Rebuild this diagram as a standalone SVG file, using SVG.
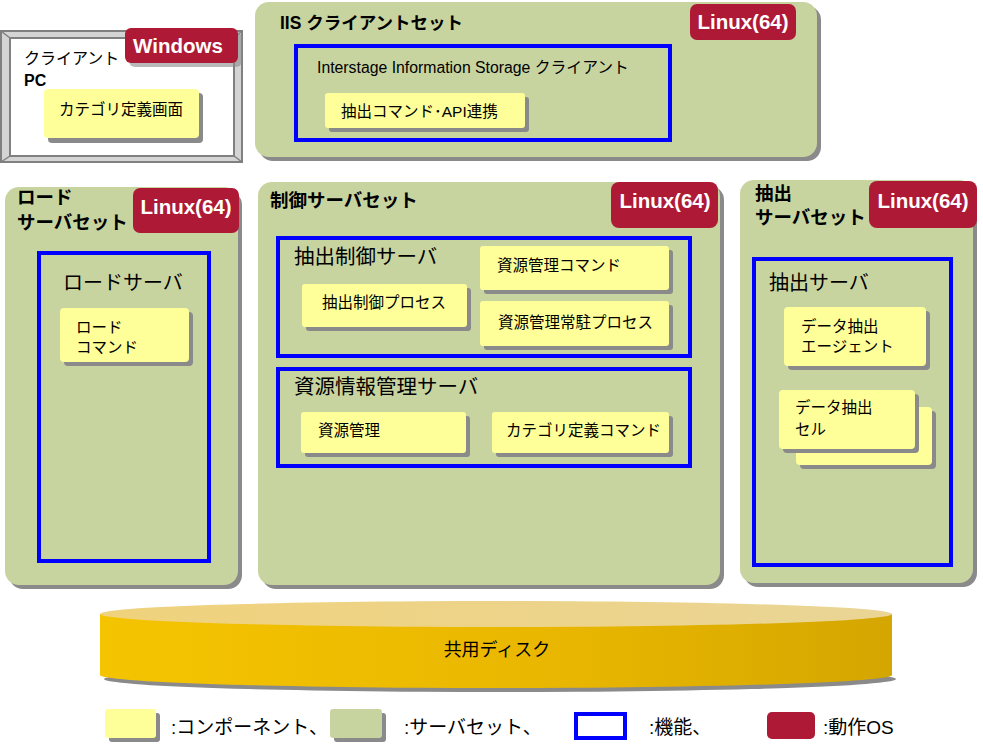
<svg xmlns="http://www.w3.org/2000/svg" width="983" height="752" viewBox="0 0 983 752">
<defs>
<style>
text{font-family:"Liberation Sans","Noto Sans CJK JP",sans-serif;fill:#000}
.set{fill:#C8D4A0}
.shd{fill:#8A8A8A}
.comp{fill:#FFFF99}
.func{fill:none;stroke:#0000FF;stroke-width:4}
.os{fill:#AE1A36}
.ost{font-size:20.5px;font-weight:bold;fill:#FFFFFF;text-anchor:middle}
.st{font-size:18.5px;font-weight:bold}
.ft{font-size:20px}
.ct{font-size:15.5px}
.lg{font-size:19px}
</style>
<linearGradient id="body" x1="0" y1="0" x2="1" y2="0">
<stop offset="0" stop-color="#F5C400"/>
<stop offset="0.6" stop-color="#E8B600"/>
<stop offset="1" stop-color="#D4A600"/>
</linearGradient>
<linearGradient id="top" x1="0" y1="0" x2="1" y2="0">
<stop offset="0" stop-color="#F0D27C"/>
<stop offset="1" stop-color="#EAD596"/>
</linearGradient>
</defs>

<g id="client-pc">
<rect x="1" y="31" width="241" height="131" fill="#D4D4D4" stroke="#808080" stroke-width="2"/>
<path d="M1,31 L10,38 M242,31 L234,38 M1,162 L10,156 M242,162 L234,156" stroke="#808080" stroke-width="1.5"/>
<rect x="10" y="38" width="224" height="118" fill="#FFFFFF" stroke="#808080" stroke-width="2"/>
<rect x="129" y="32" width="113" height="35" rx="6" class="shd" opacity="0.6"/>
<rect x="125" y="28" width="113" height="35" rx="6" class="os"/>
<text x="178" y="53" class="ost">Windows</text>
<text x="24" y="64" style="font-size:16px">クライアント</text>
<text x="24" y="86" style="font-size:16px;font-weight:bold">PC</text>
<rect x="48" y="93" width="155" height="50" rx="4" class="shd"/>
<rect x="44" y="89" width="155" height="49" rx="4" class="comp"/>
<text x="59" y="115" style="font-size:15.5px">カテゴリ定義画面</text>
</g>

<g id="iis-client-set">
<rect x="259" y="6" width="562" height="155" rx="14" class="shd"/>
<rect x="255" y="2" width="562" height="155" rx="14" class="set"/>
<rect x="690" y="4" width="106" height="36" rx="7" class="os"/>
<text x="743" y="29" class="ost">Linux(64)</text>
<text x="280" y="29" style="font-size:17.5px;font-weight:bold">IIS クライアントセット</text>
<rect x="296" y="46" width="374" height="94" class="func"/>
<text x="317" y="73" style="font-size:15.8px">Interstage Information Storage クライアント</text>
<rect x="329" y="97" width="200" height="35" rx="3" class="shd"/>
<rect x="325" y="93" width="200" height="35" rx="3" class="comp"/>
<text x="341" y="117" style="font-size:15.5px">抽出コマンド･API連携</text>
</g>

<g id="load-server-set">
<rect x="9" y="191" width="233" height="398" rx="14" class="shd"/>
<rect x="5" y="187" width="233" height="398" rx="14" class="set"/>
<rect x="133" y="188" width="106" height="45" rx="7" class="os"/>
<text x="186" y="214" class="ost">Linux(64)</text>
<text x="17" y="204" class="st">ロード</text>
<text x="17" y="229" class="st">サーバセット</text>
<rect x="39" y="253" width="170" height="308" class="func"/>
<text x="63" y="290" class="ft">ロードサーバ</text>
<rect x="64" y="312" width="129" height="54" rx="4" class="shd"/>
<rect x="60" y="308" width="129" height="54" rx="4" class="comp"/>
<text x="76" y="333" class="ct">ロード</text>
<text x="76" y="353" class="ct">コマンド</text>
</g>

<g id="control-server-set">
<rect x="262" y="186" width="462" height="403" rx="14" class="shd"/>
<rect x="258" y="182" width="462" height="403" rx="14" class="set"/>
<rect x="611" y="182" width="107" height="46" rx="8" class="os"/>
<text x="665" y="208" class="ost">Linux(64)</text>
<text x="270" y="207" class="st">制御サーバセット</text>
<g id="extract-control-server">
<rect x="278" y="238" width="412" height="118" class="func"/>
<text x="294" y="264" style="font-size:20.5px">抽出制御サーバ</text>
<rect x="484" y="250" width="189" height="44" rx="3" class="shd"/>
<rect x="480" y="246" width="189" height="44" rx="3" class="comp"/>
<text x="497" y="271" class="ct">資源管理コマンド</text>
<rect x="306" y="288" width="165" height="43" rx="3" class="shd"/>
<rect x="302" y="284" width="165" height="43" rx="3" class="comp"/>
<text x="322" y="308" class="ct">抽出制御プロセス</text>
<rect x="484" y="305" width="189" height="45" rx="3" class="shd"/>
<rect x="480" y="301" width="189" height="45" rx="3" class="comp"/>
<text x="498" y="328" class="ct">資源管理常駐プロセス</text>
</g>
<g id="resource-info-server">
<rect x="278" y="369" width="412" height="97" class="func"/>
<text x="294" y="394" style="font-size:20.5px">資源情報管理サーバ</text>
<rect x="305" y="416" width="165" height="41" rx="3" class="shd"/>
<rect x="301" y="412" width="165" height="41" rx="3" class="comp"/>
<text x="318" y="436" class="ct">資源管理</text>
<rect x="496" y="416" width="177" height="41" rx="3" class="shd"/>
<rect x="492" y="412" width="177" height="41" rx="3" class="comp"/>
<text x="506" y="436" class="ct">カテゴリ定義コマンド</text>
</g>
</g>

<g id="extract-server-set">
<rect x="744" y="184" width="233" height="403" rx="14" class="shd"/>
<rect x="740" y="180" width="233" height="403" rx="14" class="set"/>
<rect x="869" y="181" width="108" height="47" rx="8" class="os"/>
<text x="923" y="208" class="ost">Linux(64)</text>
<text x="755" y="200" class="st">抽出</text>
<text x="755" y="224" class="st">サーバセット</text>
<rect x="754" y="259" width="197" height="306" class="func"/>
<text x="769" y="290" class="ft">抽出サーバ</text>
<rect x="788" y="311" width="142" height="59" rx="4" class="shd"/>
<rect x="784" y="307" width="142" height="59" rx="4" class="comp"/>
<text x="801" y="332" class="ct">データ抽出</text>
<text x="801" y="352" class="ct">エージェント</text>
<rect x="800" y="411" width="136" height="58" rx="4" class="shd"/>
<rect x="796" y="407" width="136" height="58" rx="4" class="comp"/>
<rect x="783" y="394" width="136" height="59" rx="4" class="shd"/>
<rect x="779" y="390" width="136" height="59" rx="4" class="comp"/>
<text x="795" y="413" class="ct">データ抽出</text>
<text x="795" y="435" class="ct">セル</text>
</g>

<g id="shared-disk">
<ellipse cx="500" cy="679" rx="396" ry="13" fill="#8A8A8A"/>
<path d="M100,614 L100,675 A396,13 0 0 0 892,675 L892,614 Z" fill="url(#body)"/>
<ellipse cx="496" cy="614" rx="396" ry="13" fill="url(#top)"/>
<text x="497" y="656" style="font-size:18px;text-anchor:middle">共用ディスク</text>
</g>

<g id="legend">
<rect x="109" y="713" width="51" height="29" rx="3" class="shd"/>
<rect x="105" y="709" width="51" height="29" rx="3" class="comp"/>
<text x="171" y="734" class="lg">:コンポーネント、</text>
<rect x="334" y="713" width="52" height="29" rx="3" class="shd"/>
<rect x="330" y="709" width="52" height="29" rx="3" class="set"/>
<text x="404" y="734" class="lg">:サーバセット、</text>
<rect x="576" y="714" width="49" height="24" class="func" style="fill:#FFFFFF"/>
<text x="649" y="734" class="lg">:機能、</text>
<rect x="767" y="712" width="48" height="27" rx="5" class="os"/>
<text x="823" y="734" class="lg">:動作OS</text>
</g>

<g id="connectors"></g>
</svg>
